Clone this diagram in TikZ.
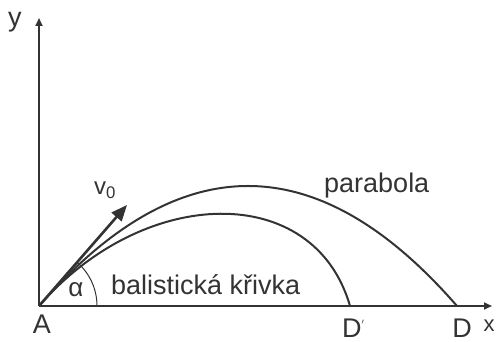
\documentclass[tikz,border=0pt]{standalone}
\usepackage{fontspec}
\setmainfont{Liberation Sans}
\usetikzlibrary{arrows.meta, positioning}
\definecolor{inkgray}{HTML}{333333}

\begin{document}
\begin{tikzpicture}[x=1pt, y=1pt,
  axis/.style={line width=1.8pt, draw=inkgray, -{Triangle[length=8pt, width=7pt]}},
  path/.style={line width=2pt, draw=inkgray},
  lbl/.style={font=\fontsize{27}{30}\selectfont, text=inkgray, inner sep=0pt},
  small/.style={font=\fontsize{22}{24}\selectfont, text=inkgray, inner sep=0pt},
]
\useasboundingbox (-39,-36) rectangle (457,306);
% --- points ---
\coordinate (A) at (0,0);
\coordinate (D) at (418,0);
\coordinate (Dp) at (311,0);
\coordinate (xend) at (453,0);
\coordinate (yend) at (0,288);
\coordinate (vtip) at (88,101);
% --- axes ---
\draw[axis] (A) -- (xend);
\draw[axis] (A) -- (yend);
% --- parabola and ballistic curve ---
\draw[path] (A) .. controls (139.3,160) and (278.7,160) .. (D);
\draw[path] (A) .. controls (105,121) and (275,125) .. (Dp);
% --- initial velocity and angle ---
\draw[line width=2.6pt, draw=inkgray, -{Triangle[length=16pt, width=13pt]}] (A) -- (vtip);
\draw[line width=1pt, draw=inkgray] (58,0) arc[start angle=0, end angle=49, radius=58];
% --- labels ---
\node[lbl, anchor=north] (Alab) at (3,-9) {A};
\node[lbl, anchor=north] (Dlab) at (423,-13) {D};
\node[lbl, anchor=north west] (Dplab) at (303,-13) {D\raisebox{9pt}{\fontsize{12}{12}\selectfont$'$}};
\node[small] (xlab) at (450,-20) {x};
\node[lbl] (ylab) at (-24,284) {y};
\node[lbl, anchor=base west] (parlab) at (285,113) {parabola};
\node[lbl, anchor=base west] (ballab) at (72,11) {balistická křivka};
\node[small, anchor=base west, font=\fontsize{24}{26}\selectfont] (vlab) at (55,111) {v\textsubscript{0}};
\node[small, font=\fontsize{26}{28}\selectfont] (alab) at (37,16) {α};
\end{tikzpicture}
\end{document}
